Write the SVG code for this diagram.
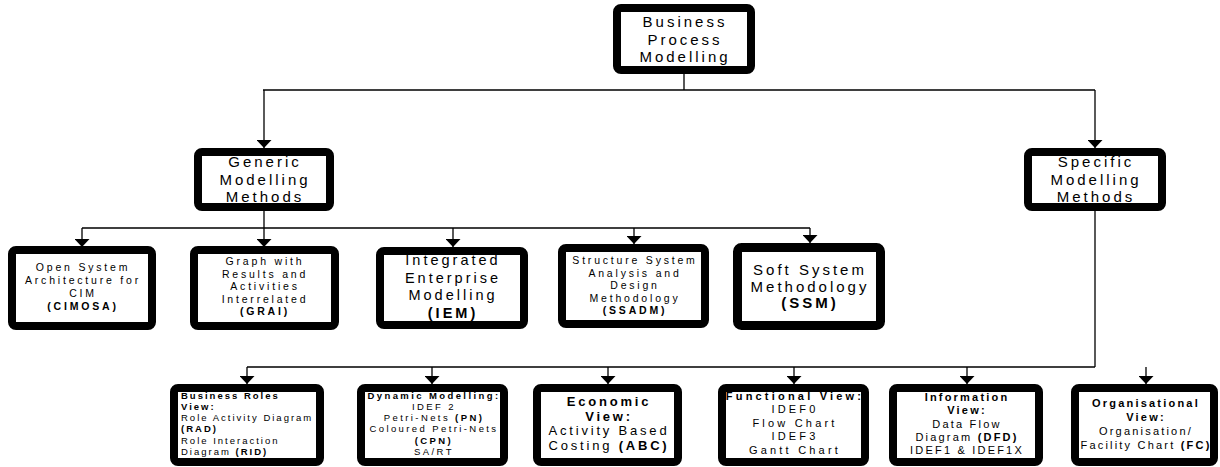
<svg xmlns="http://www.w3.org/2000/svg" width="1220" height="467" viewBox="0 0 1220 467">
<style>
.box{fill:#fff;stroke:#000;stroke-width:8;}
.thick{stroke-width:9;}
text{font-family:"Liberation Sans",Arial,sans-serif;fill:#000;text-anchor:middle;}
.t15{font-size:15px;letter-spacing:3px;}
.t14{font-size:14.5px;letter-spacing:3px;}
.t11{font-size:10.5px;letter-spacing:2.8px;}
.t10{font-size:9.5px;letter-spacing:2px;}
.t10d{font-size:9.5px;letter-spacing:2.4px;}
.t13{font-size:13px;letter-spacing:2.8px;}
.tf{font-size:11px;letter-spacing:3.2px;}
.ti{font-size:11px;letter-spacing:2.2px;}
.b{font-weight:bold;}
.left{text-anchor:start;}
.line{fill:none;stroke:#000;stroke-width:1.3;}
</style>
<defs>
<marker id="arr" markerUnits="userSpaceOnUse" markerWidth="8" markerHeight="15" refX="8" refY="7.5" orient="auto" viewBox="0 0 8 15">
<path d="M0,0 L8,7.5 L0,15 Z" fill="#000"/>
</marker>
</defs>
<g id="connectors">
<path class="line" d="M684,74 V90 M263,90 H1095"/>
<path class="line" d="M264,90 V148" marker-end="url(#arr)"/>
<path class="line" d="M1095,90 V148" marker-end="url(#arr)"/>
<path class="line" d="M264,211 V228 M82,228 H810"/>
<path class="line" d="M82,228 V247" marker-end="url(#arr)"/>
<path class="line" d="M264,228 V247" marker-end="url(#arr)"/>
<path class="line" d="M453,228 V247" marker-end="url(#arr)"/>
<path class="line" d="M634,228 V244" marker-end="url(#arr)"/>
<path class="line" d="M810,228 V243" marker-end="url(#arr)"/>
<path class="line" d="M1095,211 V367 M247,367 H1095"/>
<path class="line" d="M247,367 V384" marker-end="url(#arr)"/>
<path class="line" d="M432,367 V384" marker-end="url(#arr)"/>
<path class="line" d="M608,367 V384" marker-end="url(#arr)"/>
<path class="line" d="M794,367 V384" marker-end="url(#arr)"/>
<path class="line" d="M967,367 V384" marker-end="url(#arr)"/>
<path class="line" d="M1146,367 V384" marker-end="url(#arr)"/>
</g>
<g id="bpm">
<rect class="box" x="617" y="8" width="134" height="62" rx="4"/>
<text class="t15" x="685" y="27">Business</text>
<text class="t15" x="685" y="44.5">Process</text>
<text class="t15" x="685" y="62">Modelling</text>
</g>
<g id="generic">
<rect class="box" x="198" y="152" width="132" height="55" rx="4"/>
<text class="t15" x="265" y="167">Generic</text>
<text class="t15" x="265" y="184.5">Modelling</text>
<text class="t15" x="265" y="202">Methods</text>
</g>
<g id="specific">
<rect class="box" x="1028" y="152" width="134" height="55" rx="4"/>
<text class="t15" x="1096" y="167">Specific</text>
<text class="t15" x="1096" y="184.5">Modelling</text>
<text class="t15" x="1096" y="202">Methods</text>
</g>
<g id="cimosa">
<rect class="box" x="12" y="250" width="140" height="76" rx="4"/>
<text class="t11" x="83" y="271">Open System</text>
<text class="t11" x="83" y="284">Architecture for</text>
<text class="t11" x="83" y="297">CIM</text>
<text class="t11 b" x="83" y="310">(CIMOSA)</text>
</g>
<g id="grai">
<rect class="box" x="194" y="250" width="141" height="76" rx="4"/>
<text class="t11" x="265" y="265">Graph with</text>
<text class="t11" x="265" y="277.5">Results and</text>
<text class="t11" x="265" y="290">Activities</text>
<text class="t11" x="265" y="302.5">Interrelated</text>
<text class="t11 b" x="265" y="315">(GRAI)</text>
</g>
<g id="iem">
<rect class="box" x="380" y="251" width="144" height="74" rx="4"/>
<text class="t14" x="453" y="265">Integrated</text>
<text class="t14" x="453" y="282.5">Enterprise</text>
<text class="t14" x="453" y="300">Modelling</text>
<text class="t14 b" x="453" y="317.5">(IEM)</text>
</g>
<g id="ssadm">
<rect class="box" x="562" y="248" width="143" height="76" rx="4"/>
<text class="t11" x="635" y="264" letter-spacing="2.4">Structure System</text>
<text class="t11" x="635" y="276.5" letter-spacing="2.4">Analysis and</text>
<text class="t11" x="635" y="289" letter-spacing="2.4">Design</text>
<text class="t11" x="635" y="301.5" letter-spacing="2.4">Methodology</text>
<text class="t11 b" x="635" y="314" letter-spacing="2.4">(SSADM)</text>
</g>
<g id="ssm">
<rect class="box thick" x="737.5" y="247.5" width="143" height="78" rx="4"/>
<text class="t15" x="810" y="275">Soft System</text>
<text class="t15" x="810" y="291.5">Methodology</text>
<text class="t15 b" x="810" y="308">(SSM)</text>
</g>
<g id="business-roles">
<rect class="box" x="174" y="388" width="146" height="74" rx="4"/>
<text class="t10 b left" x="181" y="398.5">Business Roles</text>
<text class="t10 b left" x="181" y="409.8">View:</text>
<text class="t10 left" x="181" y="421.1">Role Activity Diagram</text>
<text class="t10 b left" x="181" y="432.4">(RAD)</text>
<text class="t10 left" x="181" y="443.7">Role Interaction</text>
<text class="t10 left" x="181" y="455">Diagram <tspan class="b">(RID)</tspan></text>
</g>
<g id="dynamic">
<rect class="box" x="361" y="388" width="143" height="74" rx="4"/>
<text class="t10d b" x="434" y="398.5" letter-spacing="2.7">Dynamic Modelling:</text>
<text class="t10d" x="434" y="409.8">IDEF 2</text>
<text class="t10d" x="434" y="421.1">Petri-Nets <tspan class="b">(PN)</tspan></text>
<text class="t10d" x="434" y="432.4">Coloured Petri-Nets</text>
<text class="t10d b" x="434" y="443.7">(CPN)</text>
<text class="t10d" x="434" y="455">SA/RT</text>
</g>
<g id="economic">
<rect class="box" x="537" y="388" width="141" height="74" rx="4"/>
<text class="t13 b" x="609" y="406">Economic</text>
<text class="t13 b" x="609" y="420.5">View:</text>
<text class="t13" x="609" y="435">Activity Based</text>
<text class="t13" x="609" y="449.5">Costing <tspan class="b">(ABC)</tspan></text>
</g>
<g id="functional">
<rect class="box" x="722" y="388" width="143" height="74" rx="4"/>
<text class="tf b" x="795" y="400" font-size="9.5" letter-spacing="3.5">Functional View:</text>
<text class="tf" x="795" y="413">IDEF0</text>
<text class="tf" x="795" y="426.5">Flow Chart</text>
<text class="tf" x="795" y="440">IDEF3</text>
<text class="tf" x="795" y="453.5">Gantt Chart</text>
</g>
<g id="information">
<rect class="box" x="893" y="388" width="146" height="74" rx="4"/>
<text class="ti b" x="967" y="401" letter-spacing="2.6">Information</text>
<text class="ti b" x="967" y="414">View:</text>
<text class="ti" x="967" y="427.5">Data Flow</text>
<text class="ti" x="967" y="441">Diagram <tspan class="b">(DFD)</tspan></text>
<text class="ti" x="967" y="454">IDEF1 &amp; IDEF1X</text>
</g>
<g id="organisational">
<rect class="box" x="1075" y="388" width="139" height="74" rx="4"/>
<text class="ti b" x="1146" y="407">Organisational</text>
<text class="ti b" x="1146" y="421">View:</text>
<text class="ti" x="1146" y="435">Organisation/</text>
<text class="ti" x="1146" y="449">Facility Chart <tspan class="b">(FC)</tspan></text>
</g>
</svg>
